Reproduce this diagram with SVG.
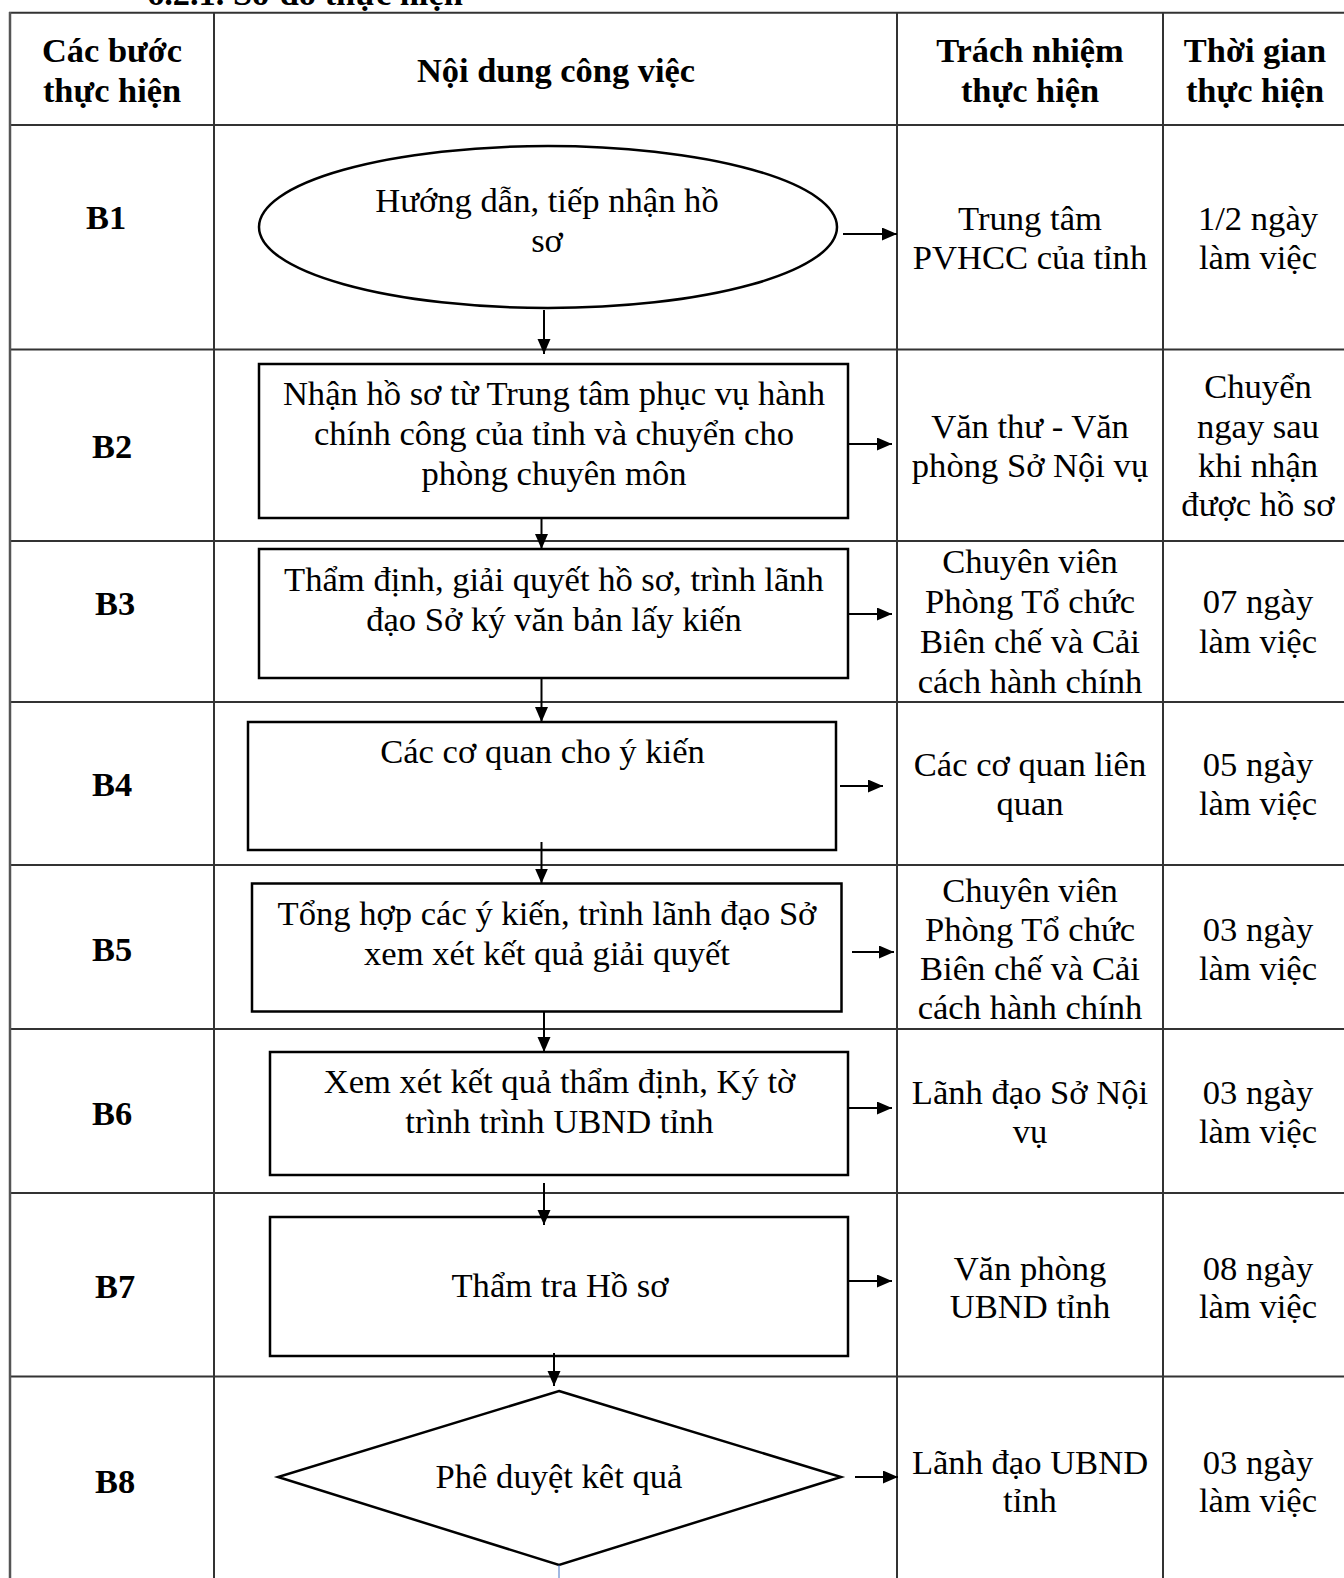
<svg xmlns="http://www.w3.org/2000/svg" width="1344" height="1578" viewBox="0 0 1344 1578">
<style>
text{font-family:"Liberation Serif","Times New Roman",serif;font-size:34.6px;fill:#000}
.b{font-weight:bold;font-size:34.4px}
.c{text-anchor:middle}
.grid{stroke:#333;stroke-width:2;fill:none}
.shape{fill:#fff;stroke:#000;stroke-width:2.5}
.conn{stroke:#000;stroke-width:2;fill:none}
</style>
<defs>
<marker id="arr" markerUnits="userSpaceOnUse" markerWidth="16" markerHeight="14" refX="15" refY="6.5" orient="auto">
<path d="M0,0 L15,6.5 L0,13 z" fill="#000"/>
</marker>
</defs>
<rect width="1344" height="1578" fill="#fff"/>
<text class="b" x="147" y="5">6.2.1. Sơ đồ thực hiện</text>
<g id="table" class="grid">
<line x1="9" y1="12.7" x2="1344" y2="12.7"/>
<line x1="9" y1="125" x2="1344" y2="125"/>
<line x1="9" y1="349.5" x2="1344" y2="349.5"/>
<line x1="9" y1="541" x2="1344" y2="541"/>
<line x1="9" y1="702" x2="1344" y2="702"/>
<line x1="9" y1="865" x2="1344" y2="865"/>
<line x1="9" y1="1029" x2="1344" y2="1029"/>
<line x1="9" y1="1193" x2="1344" y2="1193"/>
<line x1="9" y1="1376.5" x2="1344" y2="1376.5"/>
<line x1="10" y1="12" x2="10" y2="1578" stroke="#555" stroke-width="2.5"/>
<line x1="214" y1="12" x2="214" y2="1578"/>
<line x1="897" y1="12" x2="897" y2="1578"/>
<line x1="1163" y1="12" x2="1163" y2="1578"/>
</g>
<g id="header">
<text class="c b" x="112" y="62">Các bước</text>
<text class="c b" x="112" y="102">thực hiện</text>
<text class="c b" x="556" y="82">Nội dung công việc</text>
<text class="c b" x="1030" y="62">Trách nhiệm</text>
<text class="c b" x="1030" y="102">thực hiện</text>
<text class="c b" x="1255" y="62">Thời gian</text>
<text class="c b" x="1255" y="102">thực hiện</text>
</g>
<g id="steps">
<text class="b" x="86" y="229">B1</text>
<text class="b" x="92" y="458">B2</text>
<text class="b" x="95" y="614.5">B3</text>
<text class="b" x="92" y="795.5">B4</text>
<text class="b" x="92" y="961">B5</text>
<text class="b" x="92" y="1125">B6</text>
<text class="b" x="95" y="1298">B7</text>
<text class="b" x="95" y="1493">B8</text>
</g>
<g id="n1">
<ellipse class="shape" cx="548" cy="227" rx="289" ry="81"/>
<text class="c" x="547" y="212">Hướng dẫn, tiếp nhận hồ</text>
<text class="c" x="547" y="252">sơ</text>
</g>
<g id="n2">
<rect class="shape" x="259" y="364" width="589" height="154"/>
<text class="c" x="554" y="405">Nhận hồ sơ từ Trung tâm phục vụ hành</text>
<text class="c" x="554" y="445">chính công của tỉnh và chuyển cho</text>
<text class="c" x="554" y="485">phòng chuyên môn</text>
</g>
<g id="n3">
<rect class="shape" x="259" y="549" width="589" height="129"/>
<text class="c" x="554" y="591">Thẩm định, giải quyết hồ sơ, trình lãnh</text>
<text class="c" x="554" y="631">đạo Sở ký văn bản lấy kiến</text>
</g>
<g id="n4">
<rect class="shape" x="248" y="722" width="588" height="128"/>
<text class="c" x="542.5" y="763">Các cơ quan cho ý kiến</text>
</g>
<g id="n5">
<rect class="shape" x="252" y="883.5" width="589.5" height="128"/>
<text class="c" x="547" y="925">Tổng hợp các ý kiến, trình lãnh đạo Sở</text>
<text class="c" x="547" y="965">xem xét kết quả giải quyết</text>
</g>
<g id="n6">
<rect class="shape" x="270" y="1052" width="578" height="123"/>
<text class="c" x="559.5" y="1093">Xem xét kết quả thẩm định, Ký tờ</text>
<text class="c" x="559.5" y="1133">trình trình UBND tỉnh</text>
</g>
<g id="n7">
<rect class="shape" x="270" y="1217" width="578" height="139"/>
<text class="c" x="560" y="1297">Thẩm tra Hồ sơ</text>
</g>
<g id="n8">
<polygon class="shape" points="559,1391 841,1477 559,1565 278,1477"/>
<text class="c" x="559" y="1488">Phê duyệt kêt quả</text>
</g>
<g id="responsible">
<text class="c" x="1030" y="229.5">Trung tâm</text>
<text class="c" x="1030" y="269">PVHCC của tỉnh</text>
<text class="c" x="1030" y="438">Văn thư - Văn</text>
<text class="c" x="1030" y="477">phòng Sở Nội vụ</text>
<text class="c" x="1030" y="573">Chuyên viên</text>
<text class="c" x="1030" y="613">Phòng Tổ chức</text>
<text class="c" x="1030" y="653">Biên chế và Cải</text>
<text class="c" x="1030" y="692.5">cách hành chính</text>
<text class="c" x="1030" y="776">Các cơ quan liên</text>
<text class="c" x="1030" y="815">quan</text>
<text class="c" x="1030" y="901.5">Chuyên viên</text>
<text class="c" x="1030" y="940.5">Phòng Tổ chức</text>
<text class="c" x="1030" y="980">Biên chế và Cải</text>
<text class="c" x="1030" y="1018.5">cách hành chính</text>
<text class="c" x="1030" y="1104">Lãnh đạo Sở Nội</text>
<text class="c" x="1030" y="1142.5">vụ</text>
<text class="c" x="1030" y="1280">Văn phòng</text>
<text class="c" x="1030" y="1318">UBND tỉnh</text>
<text class="c" x="1030" y="1473.5">Lãnh đạo UBND</text>
<text class="c" x="1030" y="1512">tỉnh</text>
</g>
<g id="time">
<text class="c" x="1258" y="229.5">1/2 ngày</text>
<text class="c" x="1258" y="269">làm việc</text>
<text class="c" x="1258" y="398">Chuyển</text>
<text class="c" x="1258" y="438">ngay sau</text>
<text class="c" x="1258" y="477">khi nhận</text>
<text class="c" x="1258" y="516">được hồ sơ</text>
<text class="c" x="1258" y="613">07 ngày</text>
<text class="c" x="1258" y="653">làm việc</text>
<text class="c" x="1258" y="776">05 ngày</text>
<text class="c" x="1258" y="815">làm việc</text>
<text class="c" x="1258" y="940.5">03 ngày</text>
<text class="c" x="1258" y="980">làm việc</text>
<text class="c" x="1258" y="1104">03 ngày</text>
<text class="c" x="1258" y="1142.5">làm việc</text>
<text class="c" x="1258" y="1280">08 ngày</text>
<text class="c" x="1258" y="1318">làm việc</text>
<text class="c" x="1258" y="1473.5">03 ngày</text>
<text class="c" x="1258" y="1512">làm việc</text>
</g>
<g id="connectors" class="conn">
<line x1="544" y1="310" x2="544" y2="354" marker-end="url(#arr)"/>
<line x1="541.5" y1="518" x2="541.5" y2="549" marker-end="url(#arr)"/>
<line x1="541.5" y1="678" x2="541.5" y2="722" marker-end="url(#arr)"/>
<line x1="541.5" y1="842" x2="541.5" y2="883.5" marker-end="url(#arr)"/>
<line x1="544" y1="1011" x2="544" y2="1052" marker-end="url(#arr)"/>
<line x1="544" y1="1183" x2="544" y2="1225" marker-end="url(#arr)"/>
<line x1="554" y1="1353" x2="554" y2="1386" marker-end="url(#arr)"/>
<line x1="559" y1="1565" x2="559" y2="1578" stroke="#4472c4" stroke-width="1"/>
<line x1="843" y1="234" x2="897" y2="234" marker-end="url(#arr)"/>
<line x1="849" y1="444" x2="892" y2="444" marker-end="url(#arr)"/>
<line x1="849" y1="614" x2="892" y2="614" marker-end="url(#arr)"/>
<line x1="840" y1="786" x2="883" y2="786" marker-end="url(#arr)"/>
<line x1="852" y1="952" x2="894" y2="952" marker-end="url(#arr)"/>
<line x1="849" y1="1108" x2="892" y2="1108" marker-end="url(#arr)"/>
<line x1="849" y1="1281" x2="892" y2="1281" marker-end="url(#arr)"/>
<line x1="855" y1="1477" x2="898" y2="1477" marker-end="url(#arr)"/>
</g>
</svg>
